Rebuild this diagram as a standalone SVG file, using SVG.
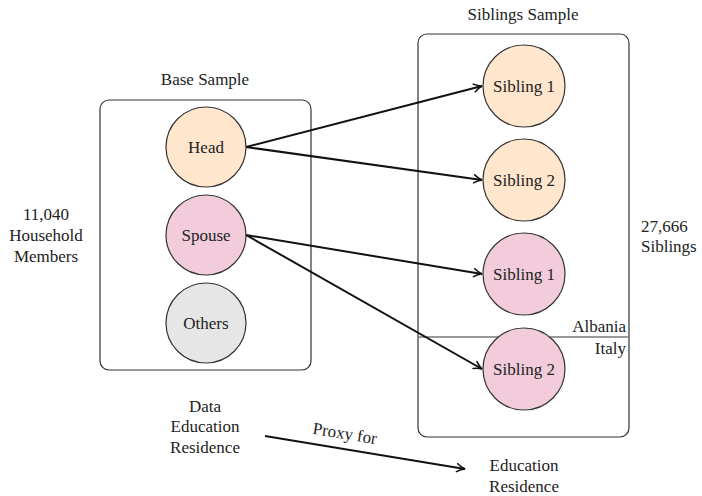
<svg xmlns="http://www.w3.org/2000/svg" width="702" height="496" viewBox="0 0 702 496">
<defs>
<style>
text{font-family:'Liberation Serif','Times New Roman','DejaVu Serif',serif;font-size:17px;fill:#222;}
.m{text-anchor:middle;}
.box{fill:none;stroke:#333;stroke-width:1.2;}
.c{stroke:#333;stroke-width:1.2;}
.or{fill:#FFE6CC;}
.pk{fill:#F2CCDB;}
.gr{fill:#E6E6E6;}
.e{fill:none;stroke:#111;stroke-width:2;marker-end:url(#ah);}
</style>
<marker id="ah" viewBox="0 0 10 10" refX="9" refY="5" markerWidth="5" markerHeight="5" orient="auto" markerUnits="strokeWidth">
<path d="M1,1 Q5,4 9,5 Q5,6 1,9" fill="none" stroke="#111" stroke-width="1.6" stroke-linecap="round"/>
</marker>
</defs>
<g id="base-sample">
<rect class="box" x="100" y="100" width="211" height="270" rx="9"/>
<text class="m" x="205" y="85">Base Sample</text>
</g>
<g id="siblings-sample">
<rect class="box" x="418" y="34" width="211" height="403" rx="9"/>
<text class="m" x="523" y="20">Siblings Sample</text>
</g>
<g id="head"><circle class="c or" cx="206" cy="147" r="40"/><text class="m" x="206" y="153">Head</text></g>
<g id="spouse"><circle class="c pk" cx="206" cy="235" r="40"/><text class="m" x="206" y="241">Spouse</text></g>
<g id="others"><circle class="c gr" cx="206" cy="323" r="40"/><text class="m" x="206" y="329">Others</text></g>
<g id="divider">
<line x1="418" y1="337" x2="629" y2="337" stroke="#777" stroke-width="1.5"/>
<text x="626" y="332" text-anchor="end">Albania</text>
<text x="626" y="354" text-anchor="end">Italy</text>
</g>
<g id="sib1a"><circle class="c or" cx="524" cy="86" r="41"/><text class="m" x="524" y="92">Sibling 1</text></g>
<g id="sib2a"><circle class="c or" cx="524" cy="180" r="41"/><text class="m" x="524" y="186">Sibling 2</text></g>
<g id="sib1b"><circle class="c pk" cx="524" cy="274" r="41"/><text class="m" x="524" y="280">Sibling 1</text></g>
<g id="sib2b"><circle class="c pk" cx="524" cy="369" r="41"/><text class="m" x="524" y="375">Sibling 2</text></g>
<g id="household-label">
<text class="m" x="46" y="220">11,040</text>
<text class="m" x="46" y="241">Household</text>
<text class="m" x="46" y="262">Members</text>
</g>
<g id="siblings-label">
<text x="641" y="232">27,666</text>
<text x="641" y="252">Siblings</text>
</g>
<g id="data-label">
<text class="m" x="205" y="412">Data</text>
<text class="m" x="205" y="432">Education</text>
<text class="m" x="205" y="453">Residence</text>
</g>
<g id="target-label">
<text class="m" x="524" y="471">Education</text>
<text class="m" x="524" y="492">Residence</text>
</g>
<g id="connectors">
<line class="e" x1="246" y1="147" x2="482" y2="86"/>
<line class="e" x1="246" y1="147" x2="482" y2="180"/>
<line class="e" x1="246" y1="235" x2="482" y2="274"/>
<line class="e" x1="246" y1="235" x2="482" y2="369"/>
<line class="e" x1="265" y1="436" x2="465" y2="469"/>
<text class="m" transform="translate(344,439) rotate(9.4)">Proxy for</text>
</g>
</svg>
